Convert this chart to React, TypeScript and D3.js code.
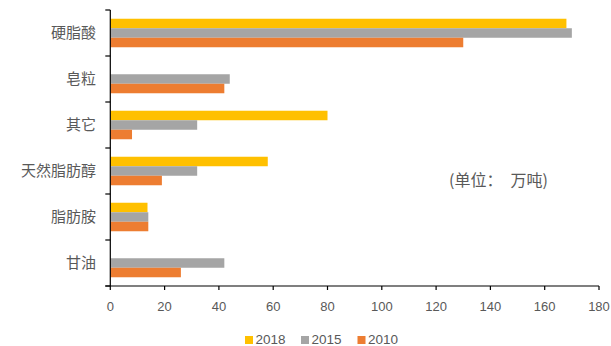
import React from "react";
import * as d3 from "d3";

const categories = ["硬脂酸", "皂粒", "其它", "天然脂肪醇", "脂肪胺", "甘油"];
const seriesNames = ["2018", "2015", "2010"];
const values2018 = [168, 0, 80, 58, 13.7, 0];
const values2015 = [170, 44, 32, 32, 14, 42];
const values2010 = [130, 42, 8, 19, 14, 26];
const xTicks = [0, 20, 40, 60, 80, 100, 120, 140, 160, 180];
const colors = ["#FFC000", "#A5A5A5", "#ED7D31"];
const unitLabel = "(单位：\u3000万吨)";

const W = 611;
const H = 346;
const left = 110.3;
const right = 599;
const top = 10;
const bottom = 286;
const font = "'Liberation Sans', 'Noto Sans CJK SC', sans-serif";
const cjkFont = "'Noto Sans CJK SC', sans-serif";

export default function App() {
  const allSeries = [values2018, values2015, values2010];
  const x = d3.scaleLinear().domain([0, 180]).range([left, right]);
  const y = d3.scaleBand().domain(categories).range([top, bottom]).paddingInner(0.38).paddingOuter(0.19);
  const inner = d3.scaleBand().domain(seriesNames).range([0, y.bandwidth()]);
  const bandStep = (bottom - top) / categories.length;
  const boundaries = d3.range(categories.length + 1).map((i) => top + i * bandStep);

  return (
    <svg width={W} height={H} style={{ position: "absolute", left: 0, top: 0, background: "#fff" }}>
      <rect width={W} height={H} fill="#fff" />
      {allSeries.map((vals, si) =>
        vals.map((v, ci) =>
          v > 0 ? (
            <rect
              key={`${si}-${ci}`}
              x={x(0)}
              y={(y(categories[ci]) as number) + (inner(seriesNames[si]) as number)}
              width={x(v) - x(0)}
              height={inner.bandwidth()}
              fill={colors[si]}
            />
          ) : null
        )
      )}
      {/* y axis */}
      <line x1={left} x2={left} y1={top} y2={bottom} stroke="#000" strokeWidth={1.2} />
      {boundaries.map((b, i) => (
        <line key={i} x1={left - 5} x2={left} y1={b} y2={b} stroke="#000" strokeWidth={1.2} />
      ))}
      {/* x axis */}
      <line x1={left - 5} x2={right} y1={bottom} y2={bottom} stroke="#000" strokeWidth={1.2} />
      {xTicks.map((t) => (
        <g key={t}>
          <line x1={x(t)} x2={x(t)} y1={bottom} y2={bottom + 4} stroke="#000" strokeWidth={1.2} />
          <text x={x(t)} y={bottom + 25} textAnchor="middle" fontSize={13} fill="#595959" fontFamily={font}>
            {t}
          </text>
        </g>
      ))}
      {categories.map((c) => (
        <text
          key={c}
          x={96}
          y={(y(c) as number) + y.bandwidth() / 2}
          dy="0.35em"
          textAnchor="end"
          fontSize={15}
          fill="#595959"
          fontFamily={cjkFont}
        >
          {c}
        </text>
      ))}
      <text x={449} y={180} dy="0.35em" fontSize={16} fill="#595959" fontFamily={cjkFont} style={{ whiteSpace: "pre" }}>
        {unitLabel}
      </text>
      {seriesNames.map((s, i) => {
        const lx = [245, 301, 357.5][i];
        return (
          <g key={s}>
            <rect x={lx} y={336} width={8} height={8} fill={colors[i]} />
            <text x={lx + 10.5} y={344} fontSize={13.5} fill="#595959" fontFamily={font}>
              {s}
            </text>
          </g>
        );
      })}
    </svg>
  );
}
